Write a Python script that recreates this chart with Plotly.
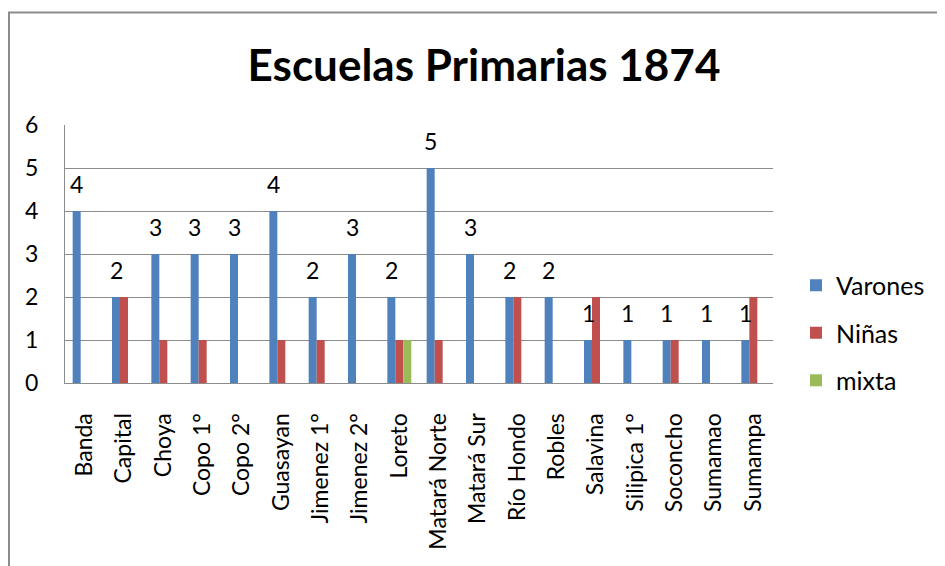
import plotly.graph_objects as go

categories = ["Banda", "Capital", "Choya", "Copo 1°", "Copo 2°", "Guasayan", "Jimenez 1°",
              "Jimenez 2°", "Loreto", "Matará Norte", "Matará Sur", "Río Hondo", "Robles",
              "Salavina", "Silipica 1°", "Soconcho", "Sumamao", "Sumampa"]
varones = [4, 2, 3, 3, 3, 4, 2, 3, 2, 5, 3, 2, 2, 1, 1, 1, 1, 1]
ninas = [0, 2, 1, 1, 0, 1, 1, 0, 1, 1, 0, 2, 0, 2, 0, 1, 0, 2]
mixta = [0, 0, 0, 0, 0, 0, 0, 0, 1, 0, 0, 0, 0, 0, 0, 0, 0, 0]
y_ticks = [0, 1, 2, 3, 4, 5, 6]

FONT = "Lato"
OFF = 8  # page body margin
PW, PH = 945, 566
W, H = PW - OFF, PH - OFF
# plot area in page coordinates
PL, PR, PT, PB = 65, 773, 125, 383
L, R, T, B = PL - OFF, PW - PR, PT - OFF, PH - PB


def px(x):
    return (x - PL) / (PR - PL)


def py(y):
    return (PB - y) / (PB - PT)


fig = go.Figure()
series = [("Varones", varones, "#4F81BD"), ("Niñas", ninas, "#C0504D"), ("mixta", mixta, "#9BBB59")]
for name, vals, col in series:
    fig.add_trace(go.Bar(x=categories, y=vals, name=name,
                         marker=dict(color=col, line=dict(width=0)), legendgroup=name))

# data labels for Varones
for c, v in zip(categories, varones):
    fig.add_annotation(x=c, y=v, text=str(v), showarrow=False, xref="x", yref="y",
                       xshift=-8, yshift=11, yanchor="bottom",
                       font=dict(family=FONT, size=23, color="#000000"))

# outer chart border
fig.add_shape(type="rect", xref="paper", yref="paper",
              x0=px(9), x1=px(980), y0=py(600), y1=py(12.5),
              line=dict(color="#8C8C8C", width=2), fillcolor="rgba(0,0,0,0)", layer="below")

fig.update_layout(
    width=W, height=H,
    margin=dict(l=L, r=R, t=T, b=B, autoexpand=False),
    paper_bgcolor="white", plot_bgcolor="white",
    barmode="group", bargap=0.39, bargroupgap=0,
    title=dict(text="<b>Escuelas Primarias 1874</b>", x=(484 - OFF) / W, xanchor="center",
               y=1 - (66 - OFF) / H, yanchor="middle", yref="container",
               font=dict(family=FONT, size=44, color="#000000")),
    font=dict(family=FONT, size=23, color="#000000"),
    legend=dict(x=px(796), y=py(333), xanchor="left", yanchor="middle",
                font=dict(family=FONT, size=25), tracegroupgap=12,
                traceorder="grouped", bgcolor="rgba(0,0,0,0)"),
    showlegend=True,
)
fig.update_yaxes(range=[0, 6], tickvals=y_ticks, showgrid=True, gridcolor="#8C8C8C", gridwidth=1,
                 showline=True, linecolor="#8C8C8C", linewidth=1, zeroline=False,
                 ticks="", ticklabelstandoff=21, tickfont=dict(family=FONT, size=23))
fig.update_xaxes(tickangle=-90, showline=True, linecolor="#8C8C8C", linewidth=1, ticks="",
                 ticklabelstandoff=20, tickfont=dict(family=FONT, size=23))

fig.write_html("out.html")
